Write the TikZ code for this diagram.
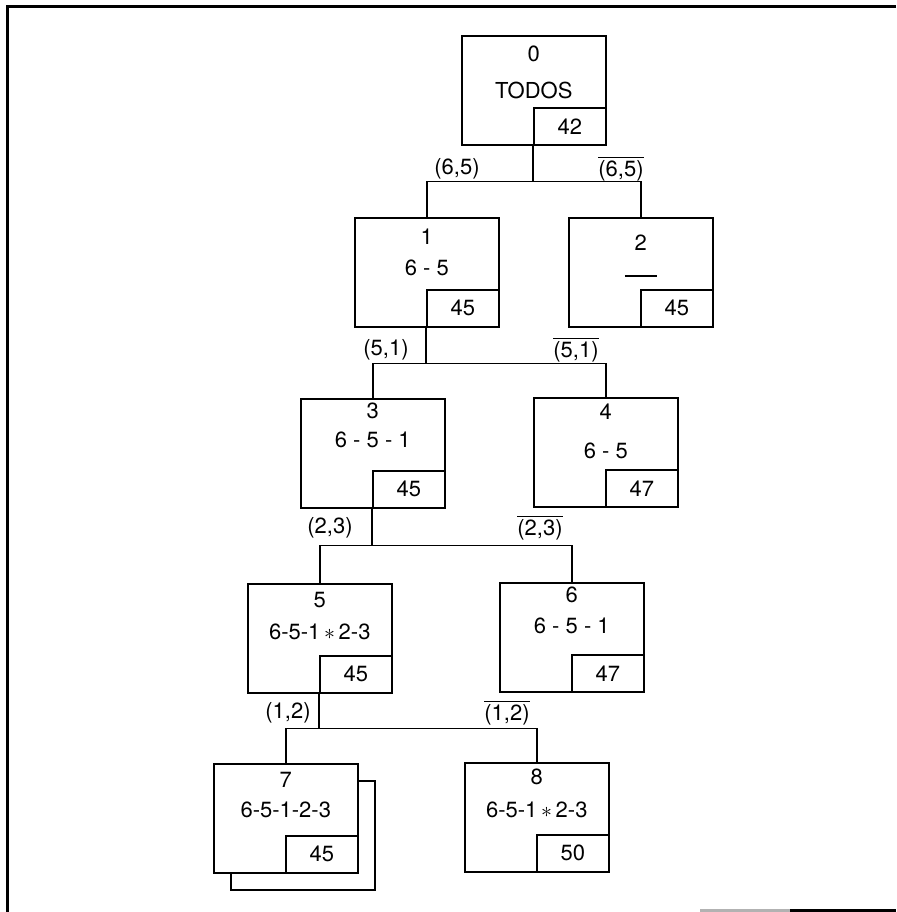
\documentclass[tikz,border=0pt]{standalone}
\usepackage{fontspec}
\setmainfont{TeX Gyre Heros}
\usetikzlibrary{calc}
\newcommand{\negado}[1]{$\overline{\mbox{#1}}$}
%% caja del nodo: #1 nombre, #2 esquina, #3 numero, #4 conjunto, #5 cota, #6 #7 alturas
\newcommand{\nodo}[7]{
	\node[caja,anchor=north west] (#1) at (#2) {};
	\node[cota,anchor=south east] (c#1) at (#1.south east) {#5};
	\node (n#1) at ($(#1.north)+(0,#6)$) {#3};
	\node (t#1) at ($(#1.north)+(0,#7)$) {#4};}

\begin{document}
\begin{tikzpicture}[x=.5pt,y=-.5pt,line width=.8pt,font=\fontsize{11}{13}\selectfont,
	caja/.style={draw,fill=white,rectangle,minimum width=72pt,minimum height=54.5pt,inner sep=0pt},
	cota/.style={draw,rectangle,minimum width=36pt,minimum height=18.5pt,inner sep=0pt}]
\useasboundingbox (0,0) rectangle (896,912);

%% marco
\draw[line width=1.5pt] (896,6)--(7,6)--(7,912);
\draw[line width=1.5pt,gray!60] (700,910)--(790,910);
\draw[line width=1.5pt] (790,910)--(896,910);

%% sombra del nodo 7
\node[caja,anchor=north west] (s7) at (230,780) {};

\nodo{b0}{461,35}{0}{TODOS}{42}{19}{55}
\nodo{b1}{354,217}{1}{6 - 5}{45}{20}{51}
\nodo{b2}{568,217}{2}{\rule{16pt}{.6pt}}{45}{26}{59}
\nodo{b3}{300,398}{3}{6 - 5 - 1}{45}{13}{42}
\nodo{b4}{533,397}{4}{6 - 5}{47}{15}{54}
\nodo{b5}{247,583}{5}{6-5-1\,$\ast$\,2-3}{45}{17}{49}
\nodo{b6}{499,582}{6}{6 - 5 - 1}{47}{13}{44}
\nodo{b7}{213,763}{7}{6-5-1-2-3}{45}{17}{47}
\nodo{b8}{464,762}{8}{6-5-1\,$\ast$\,2-3}{50}{15}{48}

%% ramas
\coordinate (r0) at ($(cb0.south west)+(0,36)$);
\coordinate (r1) at ($(cb1.south west)+(0,36)$);
\coordinate (r3) at ($(cb3.south west)+(0,37)$);
\coordinate (r5) at ($(cb5.south west)+(0,35)$);
\draw (cb0.south west)--(r0);
\draw (b1.north) |- (r0) -| (b2.north);
\draw (cb1.south west)--(r1);
\draw (b3.north) |- (r1) -| (b4.north);
\draw (cb3.south west)--(r3);
\draw (b5.north) |- (r3) -| (b6.north);
\draw (cb5.south west)--(r5);
\draw (b7.north) |- (r5) -| (b8.north);

%% etiquetas de las ramas
\node (e1) at (457,169) {(6,5)};
\node (e2) at (621,169) {\negado{(6,5)}};
\node (e3) at (386,350) {(5,1)};
\node (e4) at (576,350) {\negado{(5,1)}};
\node (e5) at (330,528) {(2,3)};
\node (e6) at (540,528) {\negado{(2,3)}};
\node (e7) at (288,713) {(1,2)};
\node (e8) at (507,713) {\negado{(1,2)}};
\end{tikzpicture}
\end{document}
